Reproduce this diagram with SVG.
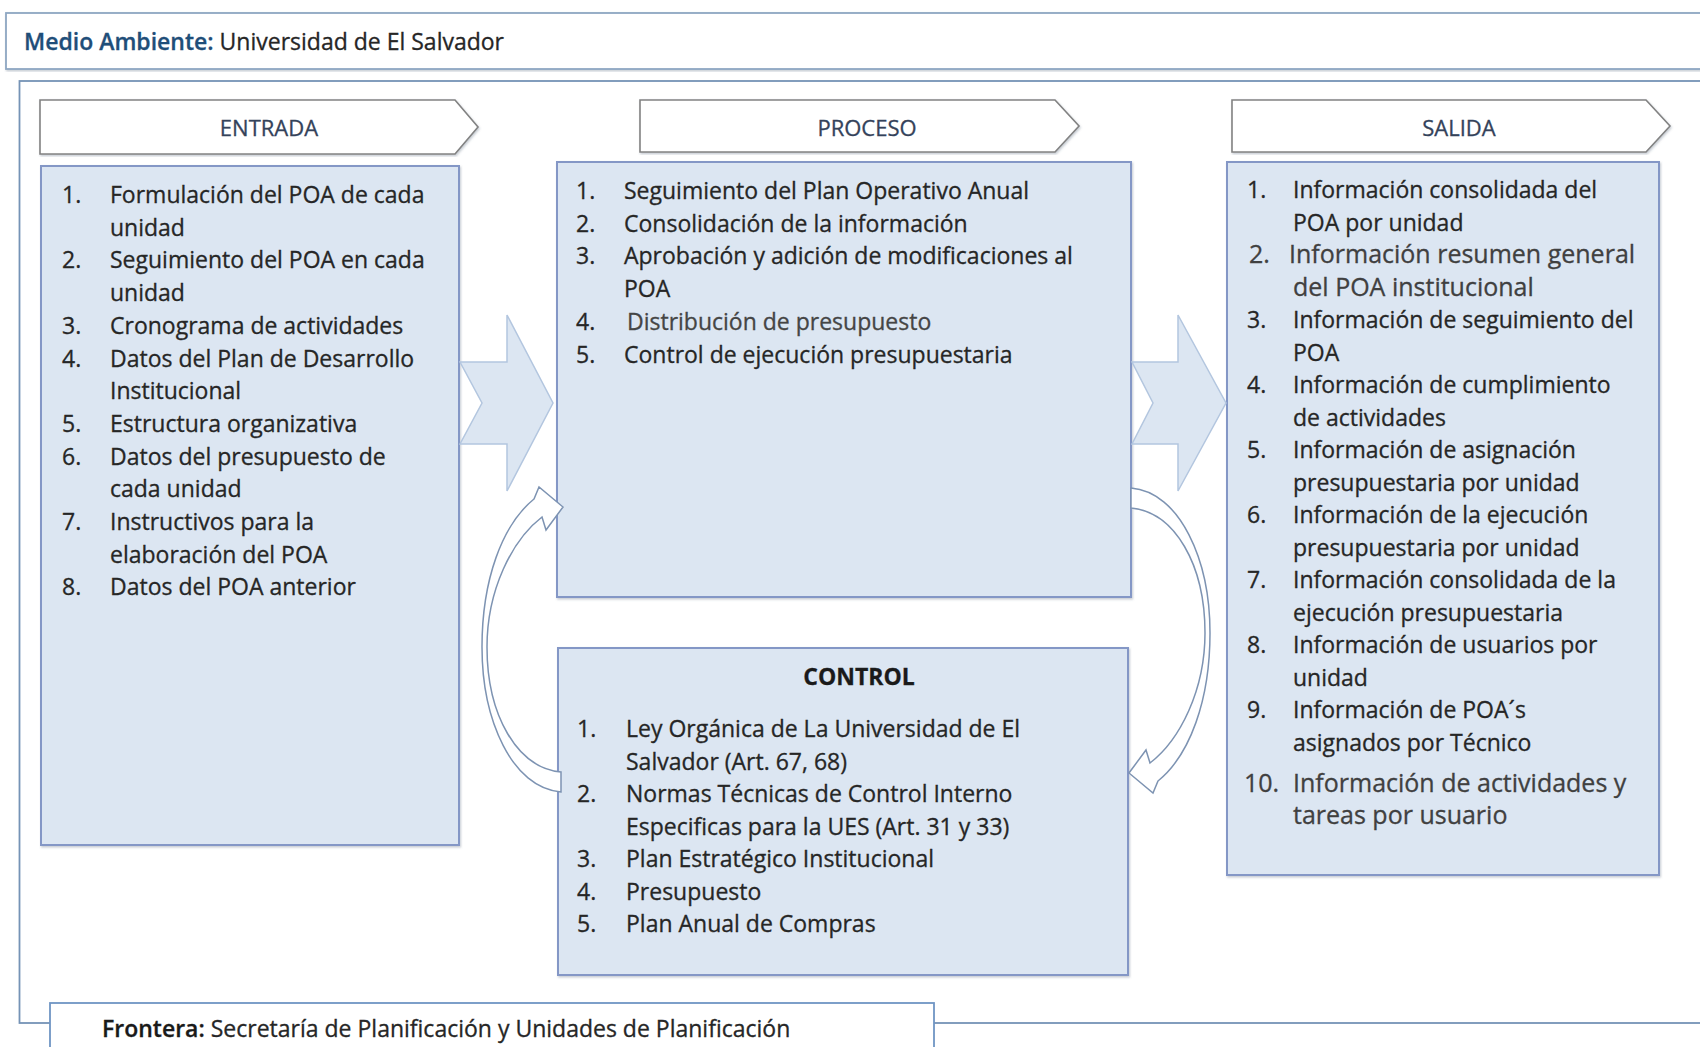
<svg xmlns="http://www.w3.org/2000/svg" width="1700" height="1047" viewBox="0 0 1700 1047">
  <defs>
    <filter id="shadow" x="-5%" y="-5%" width="110%" height="110%">
      <feDropShadow dx="1" dy="1.5" stdDeviation="1.2" flood-color="#5a6a80" flood-opacity="0.35"/>
    </filter>
    <style>
      .t { font-family: "Open Sans", "Liberation Sans", sans-serif; font-size: 23px; fill: #262626; stroke: #262626; stroke-width: 0.3; }
      .big { font-size: 25px; fill: #404040; stroke: #404040; }
      .soft { fill: #454545; stroke: #454545; }
      .tag { font-family: "Open Sans", "Liberation Sans", sans-serif; font-size: 22px; fill: #34425a; stroke: #34425a; stroke-width: 0.3; text-anchor: middle; }
      .frame { fill: #ffffff; stroke: #7593b6; stroke-width: 1.8; }
      .topframe { fill: #ffffff; stroke: #8ea7c2; stroke-width: 1.8; }
      .box { fill: #dce6f2; stroke: #8497c6; stroke-width: 2; }
      .tagshape { fill: #ffffff; stroke: #828282; stroke-width: 1.6; }
      .blk { fill: #dce6f2; stroke: #b3c6df; stroke-width: 1.5; }
      .curve { fill: #ffffff; stroke: #7d93b2; stroke-width: 1.5; }
    </style>
  </defs>

  <rect width="1700" height="1047" fill="#ffffff"/>

  <!-- environment banner -->
  <g id="medio-ambiente">
    <rect class="topframe" x="6" y="13" width="1710" height="56" filter="url(#shadow)"/>
    <text class="t" x="24" y="50" font-size="22.5"><tspan font-weight="600" fill="#1f4e79" stroke="#1f4e79">Medio Ambiente:</tspan> Universidad de El Salvador</text>
  </g>

  <!-- system frame -->
  <g id="sistema">
    <rect class="frame" x="19.5" y="81" width="1700" height="942"/>
  </g>

  <!-- ENTRADA -->
  <g id="entrada">
    <path class="tagshape" d="M40,100 H455 L478,127 L455,154 H40 Z" filter="url(#shadow)"/>
    <text class="tag" x="269" y="136">ENTRADA</text>
    <rect class="box" x="41" y="166" width="418" height="679" filter="url(#shadow)"/>
    <g class="t">
      <text x="62" y="203">1.</text><text x="110" y="203">Formulación del POA de cada</text>
      <text x="110" y="235.7">unidad</text>
      <text x="62" y="268.4">2.</text><text x="110" y="268.4">Seguimiento del POA en cada</text>
      <text x="110" y="301.1">unidad</text>
      <text x="62" y="333.8">3.</text><text x="110" y="333.8">Cronograma de actividades</text>
      <text x="62" y="366.5">4.</text><text x="110" y="366.5">Datos del Plan de Desarrollo</text>
      <text x="110" y="399.2">Institucional</text>
      <text x="62" y="431.9">5.</text><text x="110" y="431.9">Estructura organizativa</text>
      <text x="62" y="464.6">6.</text><text x="110" y="464.6">Datos del presupuesto de</text>
      <text x="110" y="497.3">cada unidad</text>
      <text x="62" y="530">7.</text><text x="110" y="530">Instructivos para la</text>
      <text x="110" y="562.7">elaboración del POA</text>
      <text x="62" y="595.4">8.</text><text x="110" y="595.4">Datos del POA anterior</text>
    </g>
  </g>

  <!-- PROCESO -->
  <g id="proceso">
    <path class="tagshape" d="M640,100 H1055 L1079,126 L1055,152 H640 Z" filter="url(#shadow)"/>
    <text class="tag" x="867" y="136">PROCESO</text>
    <rect class="box" x="557" y="162" width="574" height="435" filter="url(#shadow)"/>
    <g class="t">
      <text x="576" y="199">1.</text><text x="624" y="199">Seguimiento del Plan Operativo Anual</text>
      <text x="576" y="231.7">2.</text><text x="624" y="231.7">Consolidación de la información</text>
      <text x="576" y="264.4">3.</text><text x="624" y="264.4">Aprobación y adición de modificaciones al</text>
      <text x="624" y="297.1">POA</text>
      <text x="576" y="329.8">4.</text><text x="627" y="329.8" class="soft">Distribución de presupuesto</text>
      <text x="576" y="362.5">5.</text><text x="624" y="362.5">Control de ejecución presupuestaria</text>
    </g>
  </g>

  <!-- SALIDA -->
  <g id="salida">
    <path class="tagshape" d="M1232,100 H1646 L1670,126 L1646,152 H1232 Z" filter="url(#shadow)"/>
    <text class="tag" x="1459" y="136">SALIDA</text>
    <rect class="box" x="1227" y="162" width="432" height="713" filter="url(#shadow)"/>
    <g class="t">
      <text x="1247" y="198">1.</text><text x="1293" y="198">Información consolidada del</text>
      <text x="1293" y="230.5">POA por unidad</text>
      <text x="1249" y="263" class="big">2.</text><text x="1289" y="263" class="big">Información resumen general</text>
      <text x="1293" y="295.5" class="big">del POA institucional</text>
      <text x="1247" y="328">3.</text><text x="1293" y="328">Información de seguimiento del</text>
      <text x="1293" y="360.5">POA</text>
      <text x="1247" y="393">4.</text><text x="1293" y="393">Información de cumplimiento</text>
      <text x="1293" y="425.5">de actividades</text>
      <text x="1247" y="458">5.</text><text x="1293" y="458">Información de asignación</text>
      <text x="1293" y="490.5">presupuestaria por unidad</text>
      <text x="1247" y="523">6.</text><text x="1293" y="523">Información de la ejecución</text>
      <text x="1293" y="555.5">presupuestaria por unidad</text>
      <text x="1247" y="588">7.</text><text x="1293" y="588">Información consolidada de la</text>
      <text x="1293" y="620.5">ejecución presupuestaria</text>
      <text x="1247" y="653">8.</text><text x="1293" y="653">Información de usuarios por</text>
      <text x="1293" y="685.5">unidad</text>
      <text x="1247" y="718">9.</text><text x="1293" y="718">Información de POA´s</text>
      <text x="1293" y="750.5">asignados por Técnico</text>
      <text x="1244" y="792" class="big">10.</text><text x="1293" y="792" class="big">Información de actividades y</text>
      <text x="1293" y="824" class="big">tareas por usuario</text>
    </g>
  </g>

  <!-- CONTROL -->
  <g id="control">
    <rect class="box" x="558" y="648" width="570" height="327" filter="url(#shadow)"/>
    <g class="t">
      <text x="859" y="685" text-anchor="middle" font-weight="700" fill="#1a1a1a">CONTROL</text>
      <text x="577" y="737">1.</text><text x="626" y="737">Ley Orgánica de La Universidad de El</text>
      <text x="626" y="769.5">Salvador (Art. 67, 68)</text>
      <text x="577" y="802">2.</text><text x="626" y="802">Normas Técnicas de Control Interno</text>
      <text x="626" y="834.5">Especificas para la UES (Art. 31 y 33)</text>
      <text x="577" y="867">3.</text><text x="626" y="867">Plan Estratégico Institucional</text>
      <text x="577" y="899.5">4.</text><text x="626" y="899.5">Presupuesto</text>
      <text x="577" y="932">5.</text><text x="626" y="932">Plan Anual de Compras</text>
    </g>
  </g>

  <!-- boundary label -->
  <g id="frontera">
    <rect x="50" y="1003" width="884" height="60" fill="#ffffff" stroke="#6f95c4" stroke-width="1.8"/>
    <text class="t" x="102" y="1037" font-size="22.5"><tspan font-weight="600" fill="#1a1a1a" stroke="#1a1a1a">Frontera:</tspan> Secretaría de Planificación y Unidades de Planificación</text>
  </g>

  <!-- connectors -->
  <g id="connectors">
    <!-- notched block arrows: ENTRADA -> PROCESO -> SALIDA -->
    <path class="blk" d="M460,362 H507 V315 L553,403 L507,491 V444 H460 L482,403 Z"/>
    <path class="blk" d="M1132,362 H1178 V315 L1226,403 L1178,491 V444 H1132 L1153,403 Z"/>
    <!-- feedback loop: PROCESO -> CONTROL -->
    <path id="loop-right" class="curve" d="M1131,488 C1180,492 1210,560 1210,633 C1210,700 1190,755 1158,781 L1153,793 L1129,773 L1146,750 L1150,763 C1180,740 1205,690 1205,633 C1205,565 1175,512 1131,508 Z"/>
    <!-- feedback loop: CONTROL -> PROCESO -->
    <path id="loop-left" class="curve" transform="rotate(180 846 640)" d="M1131,488 C1180,492 1210,560 1210,633 C1210,700 1190,755 1158,781 L1153,793 L1129,773 L1146,750 L1150,763 C1180,740 1205,690 1205,633 C1205,565 1175,512 1131,508 Z"/>
  </g>
</svg>
